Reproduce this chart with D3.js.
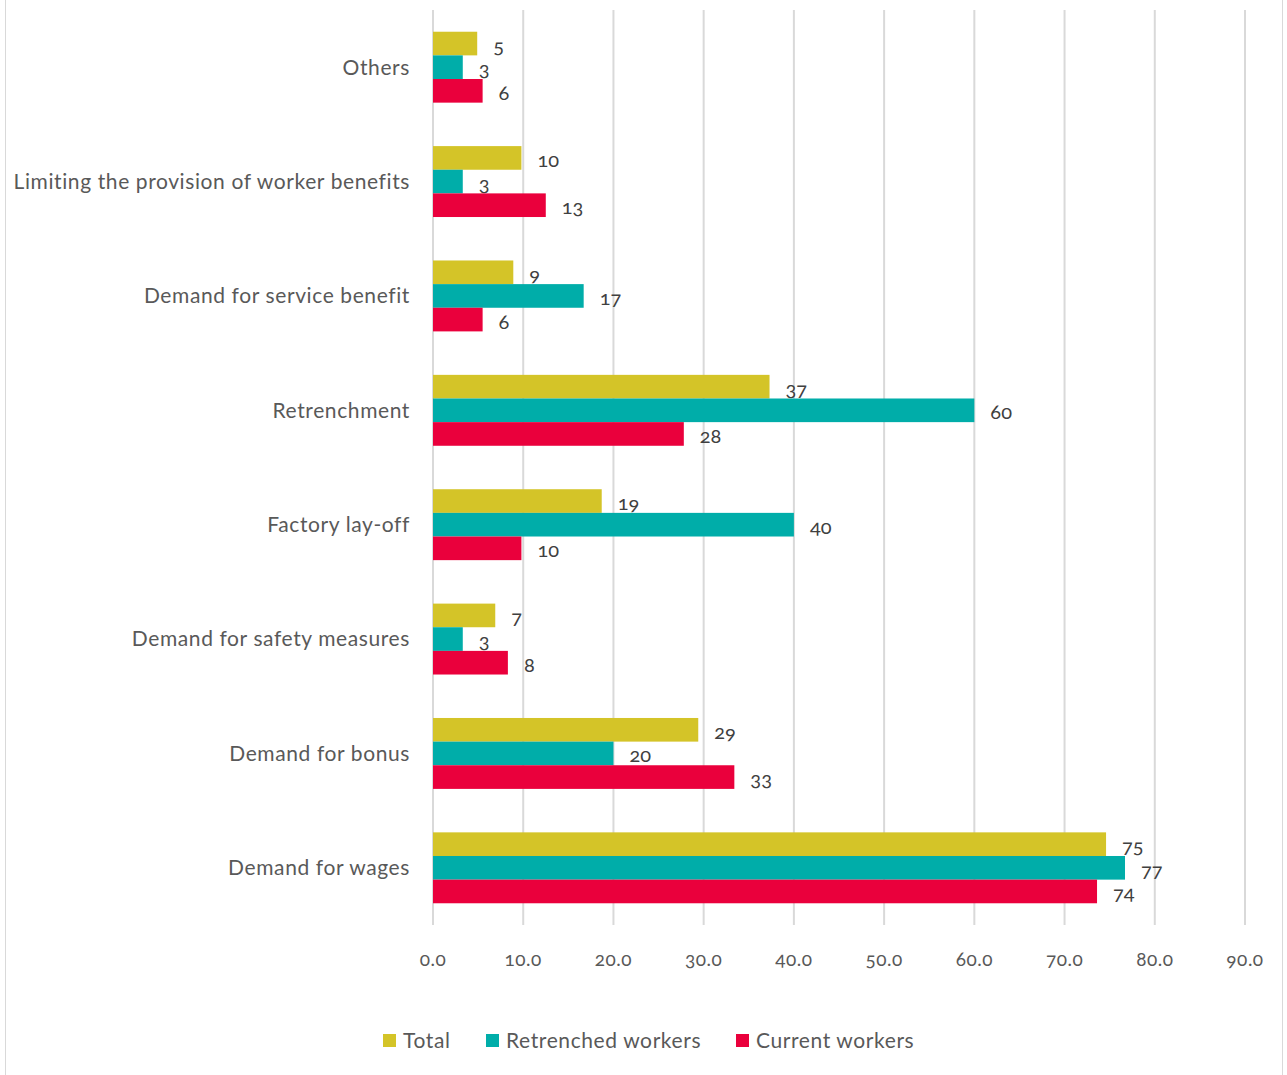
<!DOCTYPE html>
<html>
<head>
<meta charset="utf-8">
<script src="https://cdn.jsdelivr.net/npm/d3@7"></script>
<style>
  body { margin: 0; background: #fff; }
  text { font-family: Lato, "Open Sans", sans-serif; font-variant-numeric: oldstyle-nums; }
</style>
</head>
<body>
<div id="chart"></div>
<script>
// data
const categories = ['Others', 'Limiting the provision of worker benefits', 'Demand for service benefit',
  'Retrenchment', 'Factory lay-off', 'Demand for safety measures', 'Demand for bonus', 'Demand for wages']
const seriesNames = ['Total', 'Retrenched workers', 'Current workers']
const total = [4.9, 9.8, 8.9, 37.3, 18.7, 6.9, 29.4, 74.6]
const retrenched = [3.3, 3.3, 16.7, 60.0, 40.0, 3.3, 20.0, 76.7]
const current = [5.5, 12.5, 5.5, 27.8, 9.8, 8.3, 33.4, 73.6]
const xTicks = [0, 10, 20, 30, 40, 50, 60, 70, 80, 90]

const colors = ['#d4c428', '#00ada9', '#ea003c']
const series = [total, retrenched, current]

const width = 1287, height = 1075
const margin = {top: 10, right: 42, bottom: 150, left: 433}

const svg = d3.select('#chart').append('svg')
    .attr('width', width)
    .attr('height', height)

// outer border like the original frame
svg.append('rect')
    .attr('x', 5.5).attr('y', -2)
    .attr('width', 1277).attr('height', 1080)
    .attr('fill', 'none')
    .attr('stroke', '#d9d9d9')

const x = d3.scaleLinear().domain([0, 90]).range([margin.left, width - margin.right])
const y = d3.scaleBand().domain(categories).range([margin.top, height - margin.bottom]).paddingInner(0.38).paddingOuter(0.19)
const ySub = d3.scaleBand().domain(d3.range(3)).range([0, y.bandwidth()])

// gridlines
svg.append('g')
    .selectAll('line')
    .data(xTicks)
    .join('line')
    .attr('x1', d => x(d)).attr('x2', d => x(d))
    .attr('y1', margin.top).attr('y2', height - margin.bottom)
    .attr('stroke', '#d9d9d9')
    .attr('stroke-width', 2)

// tick labels
svg.append('g')
    .selectAll('text')
    .data(xTicks)
    .join('text')
    .attr('x', d => x(d))
    .attr('y', 966)
    .attr('text-anchor', 'middle')
    .attr('fill', '#595959')
    .style('font-size', '19px')
    .style('letter-spacing', '0.5px')
    .text(d => d.toFixed(1))

// category labels
svg.append('g')
    .selectAll('text')
    .data(categories)
    .join('text')
    .attr('x', 410)
    .attr('y', d => y(d) + y.bandwidth() / 2)
    .attr('dy', '0.35em')
    .attr('text-anchor', 'end')
    .attr('fill', '#595959')
    .style('font-size', '21px')
    .style('letter-spacing', '0.6px')
    .text(d => d)

// bars
series.forEach(function(vals, si) {
    const g = svg.append('g')
    g.selectAll('rect')
        .data(vals)
        .join('rect')
        .attr('x', x(0))
        .attr('y', (d, i) => y(categories[i]) + ySub(si))
        .attr('width', d => x(d) - x(0))
        .attr('height', ySub.bandwidth())
        .attr('fill', colors[si])

    g.selectAll('text')
        .data(vals)
        .join('text')
        .attr('x', d => x(d) + 16)
        .attr('y', (d, i) => y(categories[i]) + ySub(si) + ySub.bandwidth() / 2 + 2)
        .attr('dy', '0.35em')
        .attr('fill', '#404040')
        .style('font-size', '20px')
        .text(d => Math.round(d))
})

// legend
const legendX = [383, 486, 736]
const legend = svg.append('g')
    .selectAll('g')
    .data(seriesNames)
    .join('g')
    .attr('transform', (d, i) => `translate(${legendX[i]},1041)`)
legend.append('rect')
    .attr('x', 0).attr('y', -7)
    .attr('width', 13).attr('height', 13)
    .attr('fill', (d, i) => colors[i])
legend.append('text')
    .attr('x', 20)
    .attr('dy', '0.35em')
    .attr('fill', '#595959')
    .style('font-size', '21px')
    .style('letter-spacing', '0.6px')
    .text(d => d)
</script>
</body>
</html>
